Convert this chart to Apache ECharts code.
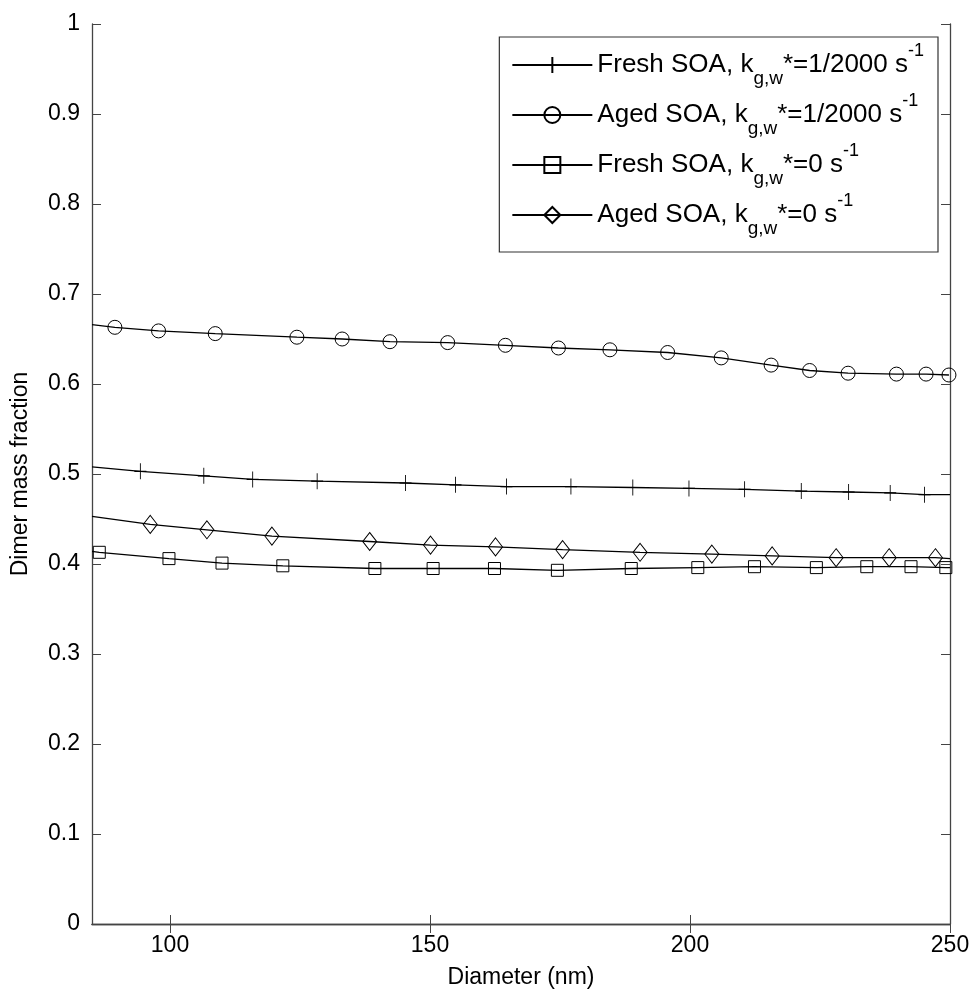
<!DOCTYPE html>
<html>
<head>
<meta charset="utf-8">
<script src="https://cdn.jsdelivr.net/npm/echarts@6/dist/echarts.min.js"></script>
<style>html,body{margin:0;padding:0;background:#fff}#c{width:976px;height:994px}</style>
</head>
<body>
<div id="c"></div>
<script>
// ---- data ----
const xTicks = [100, 150, 200, 250];
const yTicks = [0, 0.1, 0.2, 0.3, 0.4, 0.5, 0.6, 0.7, 0.8, 0.9, 1];

// Fresh SOA, kgw* = 1/2000 (plus markers)
const freshFastX = [94.3, 106.5, 115.9, 128.3, 145.3, 154.9, 164.7, 177.1, 189.0, 199.8, 210.5, 221.4, 230.5, 238.5, 245.1];
const freshFastY = [0.503, 0.498, 0.494, 0.492, 0.490, 0.488, 0.486, 0.486, 0.485, 0.484, 0.483, 0.481, 0.480, 0.479, 0.477];
const freshFastEdgeX = [85, 250];
const freshFastEdgeY = [0.508, 0.477];

// Aged SOA, kgw* = 1/2000 (circle markers)
const agedFastX = [89.4, 97.8, 108.7, 124.4, 133.1, 142.3, 153.4, 164.5, 174.7, 184.6, 195.7, 206.0, 215.6, 223.0, 230.4, 239.7, 245.4, 249.8];
const agedFastY = [0.663, 0.659, 0.656, 0.652, 0.650, 0.647, 0.646, 0.643, 0.640, 0.638, 0.635, 0.629, 0.621, 0.615, 0.612, 0.611, 0.611, 0.610];
const agedFastEdgeX = [85];
const agedFastEdgeY = [0.666];

// Fresh SOA, kgw* = 0 (square markers)
const freshZeroX = [86.4, 99.8, 110.0, 121.7, 139.4, 150.6, 162.4, 174.5, 188.7, 201.5, 212.4, 224.3, 234.0, 242.5, 249.2];
const freshZeroY = [0.413, 0.406, 0.401, 0.398, 0.395, 0.395, 0.395, 0.393, 0.395, 0.396, 0.397, 0.396, 0.397, 0.397, 0.396];
const freshZeroEdgeX = [85, 250];
const freshZeroEdgeY = [0.414, 0.396];

// Aged SOA, kgw* = 0 (diamond markers)
const agedZeroX = [96.2, 107.1, 119.6, 138.4, 150.1, 162.6, 175.5, 190.4, 204.2, 215.8, 228.1, 238.3, 247.2];
const agedZeroY = [0.444, 0.438, 0.431, 0.425, 0.421, 0.419, 0.416, 0.413, 0.411, 0.409, 0.407, 0.407, 0.407];
const agedZeroEdgeX = [85, 250];
const agedZeroEdgeY = [0.453, 0.406];

const seriesNames = ['freshFast', 'agedFast', 'freshZero', 'agedZero'];
const legendParts = {
  freshFast: ['Fresh SOA, k', 'g,w', '*=1/2000 s', '-1'],
  agedFast: ['Aged SOA, k', 'g,w', '*=1/2000 s', '-1'],
  freshZero: ['Fresh SOA, k', 'g,w', '*=0 s', '-1'],
  agedZero: ['Aged SOA, k', 'g,w', '*=0 s', '-1']
};

// ---- build ----
function build(xs, ys, ex, ey) {
  const pts = [];
  xs.forEach((x, i) => pts.push({ value: [x, ys[i]] }));
  ex.forEach((x, i) => pts.push({ value: [x, ey[i]], symbol: 'none' }));
  pts.sort((a, b) => a.value[0] - b.value[0]);
  return pts;
}

const FONT = 'Liberation Sans, Arial, sans-serif';
const hollow = { color: 'rgba(0,0,0,0)', borderColor: '#000', borderWidth: 1 };
const lineSt = { color: '#000', width: 1.3 };

function mk(name, data, symbol, size) {
  return {
    name, type: 'line', data, symbol, symbolSize: size,
    showAllSymbol: true, clip: false,
    lineStyle: lineSt, itemStyle: hollow, emphasis: { disabled: true },
    animation: false
  };
}

const series = [
  mk('freshFast', build(freshFastX, freshFastY, freshFastEdgeX, freshFastEdgeY), 'path://M5,0 L5,10 M0,5 L10,5', [12, 16]),
  mk('agedFast', build(agedFastX, agedFastY, agedFastEdgeX, agedFastEdgeY), 'circle', 14),
  mk('freshZero', build(freshZeroX, freshZeroY, freshZeroEdgeX, freshZeroEdgeY), 'rect', 12),
  mk('agedZero', build(agedZeroX, agedZeroY, agedZeroEdgeX, agedZeroEdgeY), 'diamond', [14, 18])
];

const axisLine = { show: true, lineStyle: { color: '#444', width: 1.3 } };
const tickSt = { inside: true, length: 9, lineStyle: { color: '#444', width: 1 } };

const chart = echarts.init(document.getElementById('c'), null, { renderer: 'canvas' });
chart.setOption({
  backgroundColor: '#fff',
  animation: false,
  textStyle: { fontFamily: FONT, color: '#000' },
  grid: { left: 92, right: 26, top: 24, bottom: 70, containLabel: false },
  legend: {
    data: seriesNames,
    orient: 'vertical',
    right: 38, top: 37,
    backgroundColor: '#fff',
    borderColor: '#333', borderWidth: 1.2,
    padding: [5, 14, 14, 12],
    itemGap: 4,
    itemWidth: 80, itemHeight: 20,
    formatter: function (n) {
      const p = legendParts[n];
      return '{n|' + p[0] + '}{sub|' + p[1] + '}{n|' + p[2] + '}{sup|' + p[3] + '}';
    },
    textStyle: {
      color: '#000', fontFamily: FONT,
      rich: {
        n: { fontSize: 26, fontFamily: FONT, color: '#000', lineHeight: 46, verticalAlign: 'middle' },
        sub: { fontSize: 19, fontFamily: FONT, color: '#000', lineHeight: 9, verticalAlign: 'bottom' },
        sup: { fontSize: 18, fontFamily: FONT, color: '#000', lineHeight: 27, verticalAlign: 'top' }
      }
    }
  },
  xAxis: [
    {
      type: 'value', min: 85, max: 250, position: 'bottom',
      name: 'Diameter (nm)', nameLocation: 'middle', nameGap: 42,
      nameTextStyle: { fontSize: 23, color: '#000', fontFamily: FONT },
      axisLine, axisTick: Object.assign({ customValues: xTicks }, tickSt),
      axisLabel: { customValues: xTicks, fontSize: 23, color: '#000', margin: 10, fontFamily: FONT },
      splitLine: { show: false }
    },
    {
      type: 'value', min: 85, max: 250, position: 'top',
      axisLine, axisTick: Object.assign({ customValues: xTicks }, tickSt),
      axisLabel: { show: false, customValues: xTicks }, splitLine: { show: false }
    }
  ],
  yAxis: [
    {
      type: 'value', min: 0, max: 1, interval: 0.1, position: 'left',
      name: 'Dimer mass fraction', nameLocation: 'middle', nameGap: 60,
      nameTextStyle: { fontSize: 23, color: '#000', fontFamily: FONT },
      axisLine, axisTick: tickSt,
      axisLabel: { fontSize: 23, color: '#000', margin: 12, fontFamily: FONT, formatter: v => String(+v.toFixed(1)) },
      splitLine: { show: false }
    },
    {
      type: 'value', min: 0, max: 1, interval: 0.1, position: 'right',
      axisLine, axisTick: tickSt, axisLabel: { show: false }, splitLine: { show: false }
    }
  ],
  series
});
</script>
</body>
</html>
